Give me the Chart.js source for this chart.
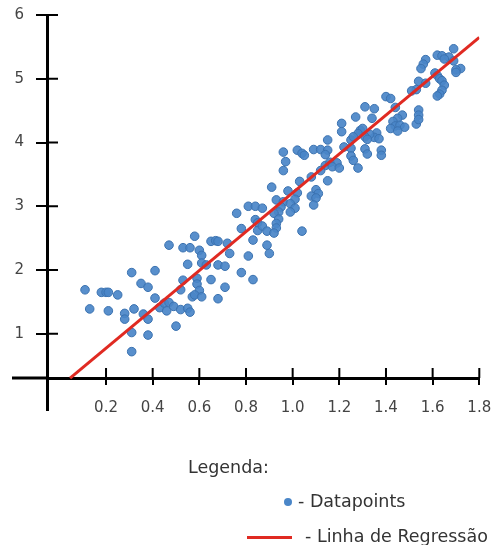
<!DOCTYPE html>
<html>
<head>
<meta charset="utf-8">
<script src="https://cdn.jsdelivr.net/npm/chart.js@4.4.1/dist/chart.umd.min.js"></script>
<style>
  body { margin: 0; background: #fff; }
  #wrap { position: relative; width: 491px; height: 545px; }
  .leg { position: absolute; font-family: "DejaVu Sans", Verdana, sans-serif; font-size: 17.5px; color: #333; white-space: nowrap; line-height: 20px; }
  .dot { position: absolute; width: 8px; height: 8px; border-radius: 50%; background: #4a86c8; }
  .redline { position: absolute; height: 3px; background: #e02a22; }
</style>
</head>
<body>
<div id="wrap">
  <canvas id="chart" width="491" height="545"></canvas>
  <div class="leg" style="left:188px; top:457px;">Legenda:</div>
  <div class="dot" style="left:284px; top:498px;"></div>
  <div class="leg" style="left:298px; top:491px;">- Datapoints</div>
  <div class="redline" style="left:247px; top:536px; width:45px;"></div>
  <div class="leg" style="left:305px; top:526px;">- Linha de Regressão</div>
</div>
<script>
// datapoints
var pointX = [0.11, 0.13, 0.18, 0.20, 0.21, 0.25, 0.21, 0.31, 0.28, 0.28, 0.32, 0.35, 0.38, 0.36, 0.38, 0.31, 0.38, 0.31,
  0.41, 0.41, 0.43, 0.45, 0.47, 0.46, 0.49, 0.52, 0.50, 0.47, 0.53, 0.56, 0.53, 0.52, 0.55, 0.55, 0.56, 0.57,
  0.58, 0.60, 0.61, 0.59, 0.59, 0.60, 0.58, 0.61, 0.61, 0.63, 0.65, 0.68, 0.65, 0.67, 0.68, 0.68, 0.71, 0.71,
  0.72, 0.73, 0.76, 0.78, 0.78, 0.83, 0.89, 0.81, 0.83, 0.81, 0.84, 0.87, 0.84, 0.85, 0.85, 0.87, 0.89, 0.90,
  0.96, 1.02, 1.04, 1.09, 1.12, 1.15, 1.14, 0.97, 0.96, 1.14, 1.16, 1.19, 1.17, 1.20, 1.12, 1.08, 1.15, 1.03,
  0.91, 0.98, 1.02, 1.10, 1.11, 1.08, 1.10, 0.93, 0.96, 1.01, 0.99, 1.09, 1.01, 0.99, 0.95, 0.94, 0.92, 0.94,
  0.93, 0.93, 0.92, 1.04, 1.05, 1.15, 1.21, 1.21, 1.22, 1.25, 1.25, 1.25, 1.26, 1.28, 1.27, 1.31, 1.35, 1.34,
  1.40, 1.42, 1.44, 1.47, 1.45, 1.43, 1.44, 1.42, 1.46, 1.48, 1.45, 1.53, 1.29, 1.30, 1.28, 1.26, 1.36, 1.35,
  1.37, 1.33, 1.31, 1.32, 1.31, 1.32, 1.38, 1.38, 1.54, 1.54, 1.54, 1.69, 1.62, 1.64, 1.67, 1.69, 1.65, 1.57,
  1.56, 1.55, 1.72, 1.70, 1.70, 1.61, 1.62, 1.63, 1.64, 1.65, 1.54, 1.57, 1.53, 1.51, 1.64, 1.63, 1.62];
var pointY = [1.69, 1.39, 1.65, 1.65, 1.65, 1.61, 1.36, 1.96, 1.32, 1.23, 1.39, 1.79, 1.73, 1.31, 1.23, 1.02, 0.98, 0.72,
  1.99, 1.56, 1.41, 1.48, 1.49, 1.36, 1.43, 1.38, 1.12, 2.39, 2.35, 2.35, 1.84, 1.69, 2.09, 1.40, 1.34, 1.58,
  2.53, 2.31, 2.23, 1.87, 1.78, 1.68, 1.61, 1.58, 2.11, 2.08, 1.85, 1.55, 2.45, 2.46, 2.45, 2.08, 2.06, 1.73,
  2.42, 2.26, 2.89, 2.65, 1.96, 2.47, 2.39, 2.22, 1.85, 3.00, 3.00, 2.97, 2.79, 2.74, 2.62, 2.69, 2.61, 2.26,
  3.85, 3.88, 3.83, 3.89, 3.89, 3.88, 3.81, 3.70, 3.56, 3.64, 3.69, 3.68, 3.62, 3.60, 3.56, 3.46, 3.40, 3.39,
  3.30, 3.24, 3.21, 3.26, 3.20, 3.16, 3.13, 3.10, 3.07, 3.11, 3.04, 3.02, 2.97, 2.91, 2.99, 2.91, 2.89, 2.80,
  2.73, 2.66, 2.58, 2.61, 3.80, 4.04, 4.30, 4.17, 3.93, 3.91, 4.04, 3.79, 3.72, 3.60, 4.40, 4.56, 4.53, 4.38,
  4.72, 4.69, 4.55, 4.43, 4.38, 4.33, 4.26, 4.22, 4.27, 4.24, 4.18, 4.29, 4.19, 4.22, 4.14, 4.09, 4.15, 4.08,
  4.06, 4.13, 4.09, 4.05, 3.90, 3.82, 3.88, 3.80, 4.51, 4.43, 4.36, 5.47, 5.37, 5.36, 5.34, 5.28, 5.31, 5.30,
  5.23, 5.16, 5.16, 5.14, 5.10, 5.09, 5.05, 5.00, 4.97, 4.90, 4.96, 4.93, 4.83, 4.81, 4.82, 4.76, 4.73];

// regression line end points
var lineX = [0.046, 1.80];
var lineY = [0.306, 5.65];

var xTicks = [0.2, 0.4, 0.6, 0.8, 1.0, 1.2, 1.4, 1.6, 1.8];
var yTicks = [1, 2, 3, 4, 5, 6];

var points = pointX.map(function (x, i) { return { x: x, y: pointY[i] }; });
var line = lineX.map(function (x, i) { return { x: x, y: lineY[i] }; });

var tickFont = { family: '"DejaVu Sans", Verdana, sans-serif', size: 15 };

function noPadding(s) {
    s.paddingLeft = s.paddingRight = s.paddingTop = s.paddingBottom = 0;
}

// inner half of the crossing ticks, and the stub of the x axis left of the y axis
var crossTicks = {
    id: 'crossTicks',
    afterDraw: function (chart) {
        var c = chart.ctx, xs = chart.scales.x, ys = chart.scales.y;
        var ax = chart.chartArea.left, ay = ys.getPixelForValue(0.306);
        c.save();
        c.strokeStyle = '#000';
        c.lineWidth = 2;
        c.beginPath();
        yTicks.forEach(function (v) {
            var p = ys.getPixelForValue(v);
            c.moveTo(ax, p); c.lineTo(ax + 11, p);
        });
        xTicks.forEach(function (v) {
            var p = xs.getPixelForValue(v);
            c.moveTo(p, ay); c.lineTo(p, ay - 10);
        });
        c.stroke();
        c.lineWidth = 3;
        c.beginPath();
        c.moveTo(12, ay); c.lineTo(ax, ay);
        c.stroke();
        c.restore();
    }
};

var ctx = document.getElementById('chart').getContext('2d');
var chart = new Chart(ctx, {
    type: 'scatter',
    data: {
        datasets: [{
            label: 'Datapoints',
            data: points,
            backgroundColor: 'rgba(74, 134, 200, 0.92)',
            borderColor: '#3b72b0',
            borderWidth: 1,
            pointRadius: 4.3,
            order: 2
        }, {
            label: 'Linha de Regressão',
            type: 'line',
            data: line,
            borderColor: '#e02a22',
            borderWidth: 3,
            pointRadius: 0,
            fill: false,
            order: 1
        }]
    },
    options: {
        responsive: false,
        animation: false,
        devicePixelRatio: 1,
        layout: { padding: { left: 0, right: 11.7, top: 15, bottom: 134.7 } },
        plugins: { legend: { display: false }, tooltip: { enabled: false } },
        scales: {
            x: {
                type: 'linear',
                min: -0.053,
                max: 1.8,
                position: { y: 0.306 },
                afterBuildTicks: function (s) { s.ticks = xTicks.map(function (v) { return { value: v }; }); },
                afterFit: noPadding,
                border: { color: '#000', width: 3 },
                grid: { drawOnChartArea: false, color: '#000', lineWidth: 2, tickLength: 5 },
                ticks: { font: tickFont, color: '#444', padding: 16,
                    callback: function (v) { return v.toFixed(1); } }
            },
            y: {
                type: 'linear',
                min: -0.2,
                max: 6,
                position: 'left',
                afterBuildTicks: function (s) { s.ticks = yTicks.map(function (v) { return { value: v }; }); },
                afterFit: function (s) { s.width = 47; noPadding(s); },
                border: { color: '#000', width: 3 },
                grid: { drawOnChartArea: false, color: '#000', lineWidth: 2, tickLength: 11 },
                ticks: { font: tickFont, color: '#444', padding: 12 }
            }
        }
    },
    plugins: [crossTicks]
});
</script>
</body>
</html>
